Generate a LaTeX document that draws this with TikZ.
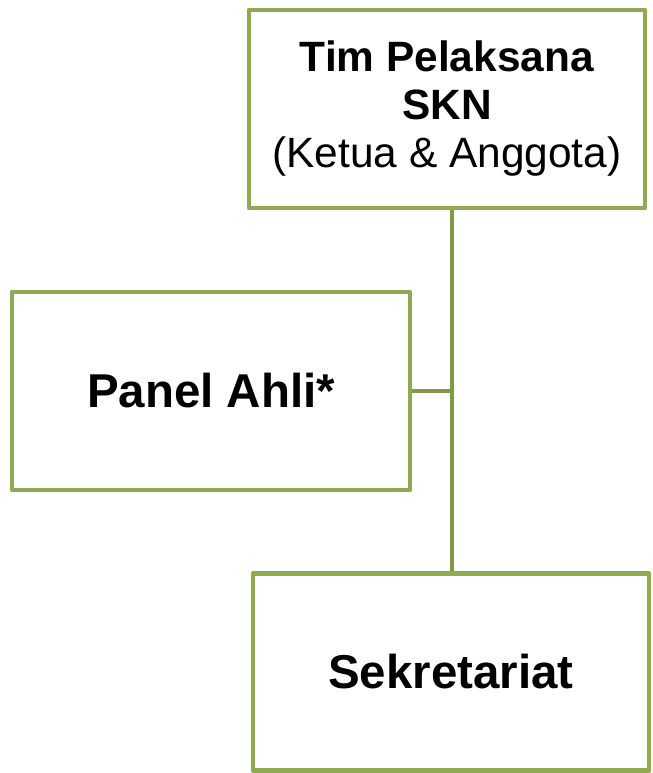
\documentclass[tikz,border=0pt]{standalone}
\usepackage{fontspec}
\setmainfont{Liberation Sans}
\usetikzlibrary{positioning}
\definecolor{boxgreen}{RGB}{143,170,82}
\definecolor{linegreen}{RGB}{128,154,72}
\tikzset{
  unitbox/.style={draw=boxgreen, line width=3.4pt, line join=round, fill=white,
    minimum width=297pt, minimum height=148.5pt, align=center, inner sep=0pt,
    font=\fontsize{31.8}{36}\selectfont},
  bigtext/.style={font=\fontsize{35.6}{40}\selectfont\bfseries},
  link/.style={draw=linegreen, line width=3.4pt}
}
\begin{document}
\begin{tikzpicture}[x=0.75pt,y=-0.75pt]
    \useasboundingbox (0,0) rectangle (652,773);
    \node[unitbox] (tim) at (447,109) {\textbf{Tim Pelaksana}\\ \textbf{SKN}\\ (Ketua \& Anggota)};
    \node[unitbox, bigtext, minimum width=298.5pt] (panel) at (211,391) {Panel Ahli*};
    \node[unitbox, bigtext, minimum height=147.8pt] (sekre) at (451,672) {Sekretariat};
    \coordinate (trunk) at (452,391);
    \draw[link] (tim.south -| trunk) -- (sekre.north -| trunk);
    \draw[link] (panel.east) -- (trunk);
\end{tikzpicture}
\end{document}
